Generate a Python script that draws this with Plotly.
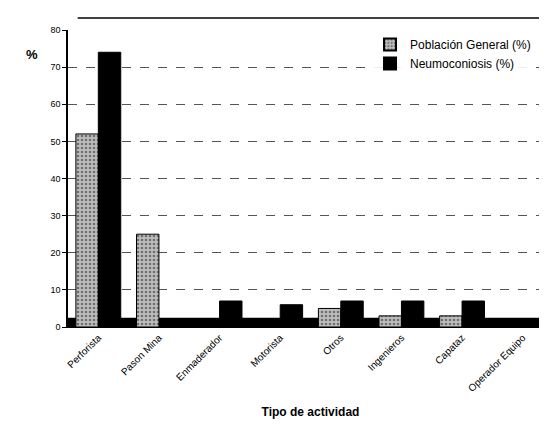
import plotly.graph_objects as go

categories = ["Perforista", "Pason Mina", "Enmaderador", "Motorista", "Otros",
              "Ingenieros", "Capataz", "Operador Equipo"]
poblacion_general = [52, 25, 0, 0, 5, 3, 3, 0]
neumoconiosis = [74, 0, 7, 6, 7, 7, 7, 0]
y_ticks = [0, 10, 20, 30, 40, 50, 60, 70, 80]

fig = go.Figure()
fig.add_trace(go.Bar(
    x=categories, y=poblacion_general, name="Población General (%)",
    marker=dict(color="#9a9a9a", line=dict(color="black", width=1),
                pattern=dict(shape=".", fgcolor="#222222", bgcolor="#bdbdbd", size=4, solidity=0.35)),
))
fig.add_trace(go.Bar(
    x=categories, y=neumoconiosis, name="Neumoconiosis (%)",
    marker=dict(color="#000000", line=dict(color="black", width=1)),
))

fig.update_layout(
    width=547, height=424,
    margin=dict(l=60, r=2, t=22, b=105),
    paper_bgcolor="white", plot_bgcolor="white",
    barmode="group", bargap=0.26, bargroupgap=0,
    font=dict(family="Liberation Sans, Arial, sans-serif", color="black", size=10),
    showlegend=True,
    legend=dict(x=0.965, xanchor="right", y=1.0, yanchor="top",
                bgcolor="rgba(255,255,255,0.9)", font=dict(size=12),
                itemsizing="constant", tracegroupgap=0),
    xaxis=dict(tickangle=-45, tickfont=dict(size=10), showline=True,
               linecolor="black", linewidth=1, ticks="",
               title=dict(text="<b>Tipo de actividad</b>", font=dict(size=12), standoff=14)),
    yaxis=dict(range=[0, 80], tickvals=y_ticks, tickfont=dict(size=9),
               showline=True, linecolor="black", linewidth=1.5,
               ticks="outside", ticklen=4, tickcolor="black",
               showgrid=True, gridcolor="#555555", gridwidth=1, griddash="dash",
               zeroline=False),
    annotations=[dict(text="<b>%</b>", x=-0.09, y=0.95, xref="paper", yref="paper",
                      showarrow=False, font=dict(size=13))],
    shapes=[
        dict(type="line", xref="paper", yref="paper", x0=0.02, x1=1.0, y0=1.04, y1=1.04,
             line=dict(color="black", width=1.5)),
        dict(type="rect", xref="paper", yref="y", x0=0, x1=1.0, y0=0, y1=2.5,
             fillcolor="black", line=dict(width=0), layer="below"),
    ],
)

fig.write_html("out.html")
